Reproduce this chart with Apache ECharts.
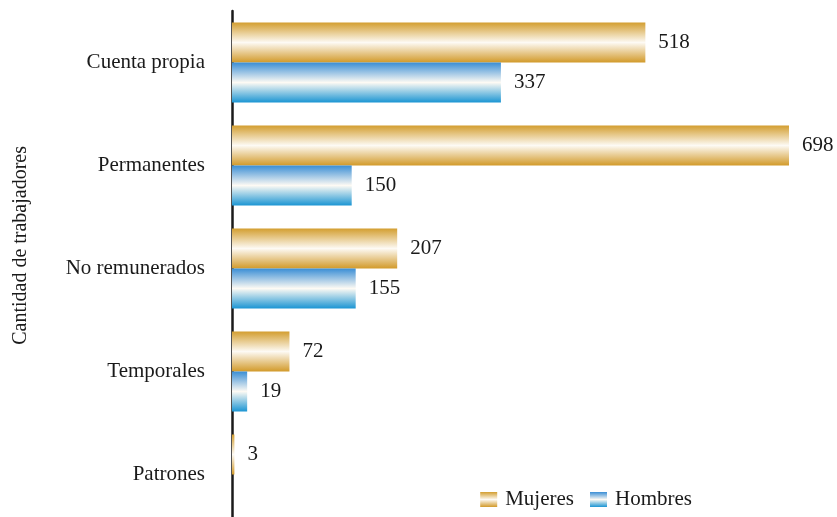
<!DOCTYPE html>
<html>
<head>
<meta charset="utf-8">
<script src="https://cdn.jsdelivr.net/npm/echarts@6/dist/echarts.min.js"></script>
<style>
  html, body { margin: 0; padding: 0; background: #fff; overflow: hidden; }
  /* the chart runs a little past the bottom of the window, as in the reference */
  #chart { width: 837px; height: 526px; }
</style>
</head>
<body>
<div id="chart"></div>
<script>
var categories = ['Cuenta propia', 'Permanentes', 'No remunerados', 'Temporales', 'Patrones'];
var mujeres = [518, 698, 207, 72, 3];
var hombres = [337, 150, 155, 19, null];
var seriesNames = ['Mujeres', 'Hombres'];

function barGradient(edgeTop, edgeBottom) {
  return new echarts.graphic.LinearGradient(0, 0, 0, 1, [
    { offset: 0, color: edgeTop },
    { offset: 0.5, color: '#fdfaf4' },
    { offset: 1, color: edgeBottom }
  ]);
}
var gold = barGradient('#d39e30', '#d29a2a');
var blue = barGradient('#3a8ed5', '#1b95d3');

var chart = echarts.init(document.getElementById('chart'));
var labelStyle = {
  show: true,
  position: 'right',
  distance: 13,
  fontFamily: 'Liberation Serif',
  fontSize: 21,
  color: '#1a1a1a'
};

chart.setOption({
  backgroundColor: '#ffffff',
  animation: false,
  textStyle: { fontFamily: 'Liberation Serif' },
  legend: {
    right: 140,
    bottom: 11,
    icon: 'rect',
    itemWidth: 17,
    itemHeight: 15,
    itemGap: 16,
    textStyle: { fontFamily: 'Liberation Serif', fontSize: 21, color: '#1a1a1a', padding: [0, 0, 0, 3] },
    data: seriesNames
  },
  // vertical axis title
  graphic: [{
    type: 'text',
    left: 11,
    top: 146,
    rotation: Math.PI / 2,
    style: {
      text: 'Cantidad de trabajadores',
      fontFamily: 'Liberation Serif',
      fontSize: 20,
      fill: '#1a1a1a'
    }
  }],
  grid: { left: 232, right: 48, top: 11, bottom: 0 },
  xAxis: {
    type: 'value',
    min: 0,
    max: 698,
    show: false
  },
  yAxis: {
    type: 'category',
    inverse: true,
    data: categories,
    axisLine: { show: true, lineStyle: { color: '#1a1a1a', width: 2.5 } },
    axisTick: { show: false },
    axisLabel: { margin: 27, fontFamily: 'Liberation Serif', fontSize: 21, color: '#1a1a1a' },
    splitLine: { show: false }
  },
  series: [
    {
      name: seriesNames[0],
      type: 'bar',
      data: mujeres,
      barWidth: 40,
      barGap: '0%',
      itemStyle: { color: gold },
      label: labelStyle
    },
    {
      name: seriesNames[1],
      type: 'bar',
      data: hombres,
      barWidth: 40,
      barGap: '0%',
      itemStyle: { color: blue },
      label: labelStyle
    }
  ]
});
</script>
</body>
</html>
